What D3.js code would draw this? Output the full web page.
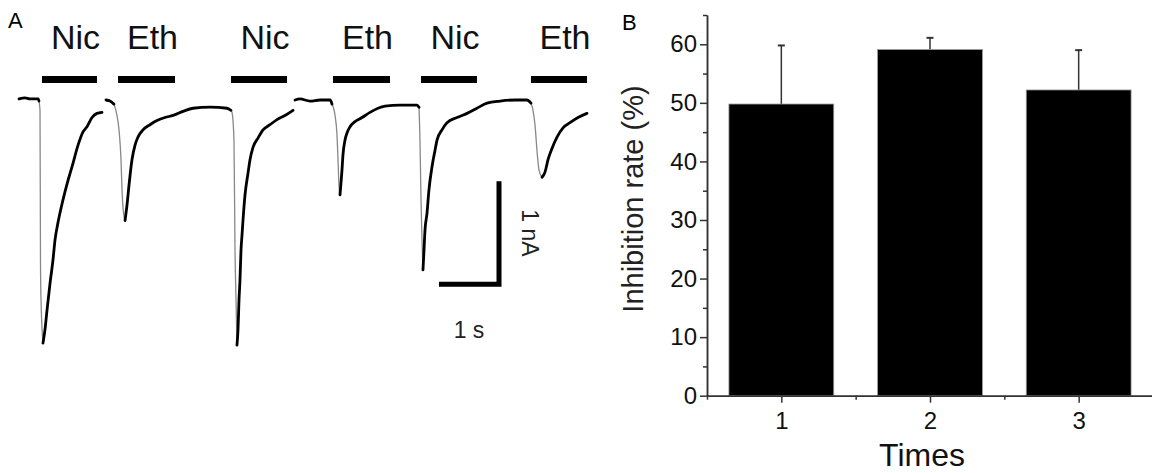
<!DOCTYPE html>
<html>
<head>
<meta charset="utf-8">
<script src="https://cdn.jsdelivr.net/npm/d3@7"></script>
<style>
  body { margin: 0; background: #fff; }
  svg { display: block; font-family: "Liberation Sans", Arial, sans-serif; }
</style>
</head>
<body>
<div id="chart"></div>
<script>
// ---- panel A: whole-cell current trace (time in s, current in nA) ----
// slow phases (thick black) and fast onset phases (thin grey)
var slowPhases = [
  [[0,0.01],[0.1,0.02],[0.18,0.01],[0.32,0.01],[0.333,-0.01]],
  [[0.40,-2.36],[0.433,-2.23],[0.467,-2.04],[0.517,-1.78],[0.567,-1.55],[0.60,-1.36],[0.65,-1.19],[0.733,-0.97],[0.817,-0.78],[0.883,-0.65],[0.983,-0.44],[1.067,-0.31],[1.133,-0.26],[1.217,-0.17],[1.30,-0.13],[1.383,-0.12]],
  [[1.45,0],[1.517,-0.01],[1.583,-0.04]],
  [[1.767,-1.17],[1.80,-1.02],[1.833,-0.83],[1.883,-0.58],[1.933,-0.44],[1.983,-0.36],[2.067,-0.29],[2.183,-0.24],[2.30,-0.20],[2.433,-0.17],[2.567,-0.15],[2.733,-0.11],[2.90,-0.08],[3.183,-0.07],[3.467,-0.08],[3.533,-0.10]],
  [[3.633,-2.38],[3.65,-2.23],[3.667,-1.94],[3.683,-1.75],[3.70,-1.46],[3.717,-1.31],[3.733,-1.17],[3.767,-0.92],[3.817,-0.71],[3.85,-0.58],[3.90,-0.46],[3.983,-0.37],[4.067,-0.29],[4.183,-0.24],[4.30,-0.19],[4.433,-0.15],[4.567,-0.10]],
  [[4.60,0],[4.683,0.01],[4.85,-0.01],[5.017,0],[5.183,0],[5.217,-0.04]],
  [[5.35,-0.92],[5.383,-0.68],[5.40,-0.53],[5.433,-0.39],[5.467,-0.32],[5.517,-0.26],[5.60,-0.21],[5.717,-0.17],[5.85,-0.12],[5.983,-0.08],[6.10,-0.06],[6.35,-0.05],[6.633,-0.05],[6.667,-0.07]],
  [[6.733,-1.65],[6.75,-1.46],[6.767,-1.26],[6.80,-1.10],[6.833,-0.87],[6.883,-0.65],[6.933,-0.49],[6.967,-0.39],[7.05,-0.29],[7.133,-0.22],[7.30,-0.17],[7.467,-0.13],[7.633,-0.08],[7.80,-0.03],[8.017,-0.01],[8.267,0],[8.467,0],[8.533,-0.03]],
  [[8.717,-0.75],[8.767,-0.70],[8.817,-0.58],[8.883,-0.47],[8.967,-0.36],[9.067,-0.27],[9.183,-0.22],[9.317,-0.17],[9.467,-0.13]]
];
var fastPhases = [
  [[0.333,-0.01],[0.35,-0.10],[0.358,-1.55],[0.367,-1.94],[0.40,-2.36]],
  [[1.583,-0.04],[1.633,-0.15],[1.667,-0.29],[1.70,-0.58],[1.717,-0.87],[1.733,-1.04],[1.767,-1.17]],
  [[3.533,-0.10],[3.55,-0.12],[3.583,-0.39],[3.60,-1.46],[3.617,-1.94],[3.633,-2.38]],
  [[5.217,-0.04],[5.267,-0.15],[5.30,-0.34],[5.317,-0.58],[5.333,-0.83],[5.35,-0.92]],
  [[6.667,-0.07],[6.683,-0.39],[6.70,-0.97],[6.717,-1.36],[6.733,-1.65]],
  [[8.533,-0.03],[8.567,-0.10],[8.60,-0.24],[8.633,-0.49],[8.667,-0.68],[8.717,-0.75]]
];
var drugs = ["Nic", "Eth", "Nic", "Eth", "Nic", "Eth"];
var drugOn = [0.383, 1.65, 3.533, 5.233, 6.70, 8.533];
var drugOff = [1.30, 2.60, 4.467, 6.183, 7.633, 9.467];

// ---- panel B: inhibition rate ----
var times = ["1", "2", "3"];
var rates = [49.8, 59.1, 52.2];
var errs = [10.0, 2.0, 6.8];
var yTicks = [0, 10, 20, 30, 40, 50, 60];

var W = 1152, H = 473;
var svg = d3.select("#chart").append("svg")
  .attr("width", W)
  .attr("height", H);

// ===== panel A =====
var xA = d3.scaleLinear().domain([0, 10]).range([19, 619]);
var yA = d3.scaleLinear().domain([0, -2.5]).range([100, 357.5]);

var trace = d3.line()
  .x(function(d) { return xA(d[0]); })
  .y(function(d) { return yA(d[1]); })
  .curve(d3.curveMonotoneX);

var gA = svg.append("g");

gA.selectAll("path.fast")
  .data(fastPhases)
  .enter()
  .append("path")
    .attr("class", "fast")
    .attr("d", trace)
    .attr("fill", "none")
    .attr("stroke", "#888")
    .attr("stroke-width", 1.3);

gA.selectAll("path.slow")
  .data(slowPhases)
  .enter()
  .append("path")
    .attr("class", "slow")
    .attr("d", trace)
    .attr("fill", "none")
    .attr("stroke", "#000")
    .attr("stroke-width", 2.8)
    .attr("stroke-linecap", "round");

// drug application bars + labels
gA.selectAll("rect.drug")
  .data(drugs)
  .enter()
  .append("rect")
    .attr("class", "drug")
    .attr("x", function(d, i) { return xA(drugOn[i]); })
    .attr("width", function(d, i) { return xA(drugOff[i]) - xA(drugOn[i]); })
    .attr("y", 76)
    .attr("height", 7)
    .attr("fill", "#000");

gA.selectAll("text.drug")
  .data(drugs)
  .enter()
  .append("text")
    .attr("class", "drug")
    .attr("x", function(d, i) { return (xA(drugOn[i]) + xA(drugOff[i])) / 2 + 6; })
    .attr("y", 49)
    .attr("text-anchor", "middle")
    .style("font-size", "34px")
    .attr("fill", "#111")
    .text(function(d) { return d; });

// scale bar: 1 s x 1 nA, corner at t = 8 s, I = -1.79 nA
var sbT = 8.0, sbI = -1.79;
gA.append("path")
  .attr("d", "M" + xA(sbT - 1) + "," + yA(sbI) +
             "H" + xA(sbT) +
             "V" + yA(sbI + 1))
  .attr("fill", "none")
  .attr("stroke", "#000")
  .attr("stroke-width", 5);

gA.append("text")
  .attr("x", xA(sbT - 0.5))
  .attr("y", 338)
  .attr("text-anchor", "middle")
  .style("font-size", "23px")
  .attr("fill", "#222")
  .text("1 s");

gA.append("text")
  .attr("transform", "translate(522," + yA(sbI + 0.5) + ") rotate(90)")
  .attr("text-anchor", "middle")
  .style("font-size", "23px")
  .attr("fill", "#222")
  .text("1 nA");

svg.append("text")
  .attr("x", 8).attr("y", 28)
  .style("font-size", "22px")
  .text("A");

// ===== panel B =====
var xB = d3.scaleLinear().domain([0.5, 3.5]).range([707, 1153]);
var yB = d3.scaleLinear().domain([0, 65]).range([395.7, 15]);
var barW = 0.705;

var gB = svg.append("g");

gB.selectAll("line.err")
  .data(rates)
  .enter()
  .append("line")
    .attr("class", "err")
    .attr("x1", function(d, i) { return xB(i + 1); })
    .attr("x2", function(d, i) { return xB(i + 1); })
    .attr("y1", function(d) { return yB(d); })
    .attr("y2", function(d, i) { return yB(d + errs[i]); })
    .attr("stroke", "#333")
    .attr("stroke-width", 1.5);

gB.selectAll("line.cap")
  .data(rates)
  .enter()
  .append("line")
    .attr("class", "cap")
    .attr("x1", function(d, i) { return xB(i + 1) - 3.5; })
    .attr("x2", function(d, i) { return xB(i + 1) + 3.5; })
    .attr("y1", function(d, i) { return yB(d + errs[i]); })
    .attr("y2", function(d, i) { return yB(d + errs[i]); })
    .attr("stroke", "#333")
    .attr("stroke-width", 2);

gB.selectAll("rect.bar")
  .data(rates)
  .enter()
  .append("rect")
    .attr("class", "bar")
    .attr("x", function(d, i) { return xB(i + 1 - barW / 2); })
    .attr("width", xB(barW) - xB(0))
    .attr("y", function(d) { return yB(d); })
    .attr("height", function(d) { return yB(0) - yB(d); })
    .attr("fill", "#000")
    .attr("stroke", "#999")
    .attr("stroke-width", 0.8);

// y axis
gB.append("g")
  .attr("transform", "translate(707,0)")
  .call(d3.axisLeft(yB).tickValues(yTicks).tickSize(7).tickPadding(3).tickSizeOuter(0));
gB.append("g")
  .attr("transform", "translate(707,0)")
  .call(d3.axisLeft(yB).tickValues([5, 15, 25, 35, 45, 55, 65]).tickSize(4).tickFormat("").tickSizeOuter(0));

// x axis
gB.append("g")
  .attr("transform", "translate(0,395.7)")
  .call(d3.axisBottom(xB).tickValues([1, 2, 3]).tickFormat(function(d) { return times[d - 1]; })
    .tickSize(7).tickPadding(9).tickSizeOuter(0));
gB.append("g")
  .attr("transform", "translate(0,395.7)")
  .call(d3.axisBottom(xB).tickValues([0.5, 1.5, 2.5]).tickSize(4).tickFormat("").tickSizeOuter(0));

gB.selectAll(".domain, .tick line")
  .attr("stroke", "#333")
  .attr("stroke-width", 1.5);
gB.selectAll(".tick text")
  .attr("fill", "#111")
  .style("font-family", "'Liberation Sans', Arial, sans-serif")
  .style("font-size", "24px");

gB.append("text")
  .attr("transform", "translate(643,199) rotate(-90)")
  .attr("text-anchor", "middle")
  .style("font-size", "29px")
  .attr("fill", "#222")
  .text("Inhibition rate (%)");

gB.append("text")
  .attr("x", 922).attr("y", 466)
  .attr("text-anchor", "middle")
  .style("font-size", "32px")
  .attr("fill", "#111")
  .text("Times");

svg.append("text")
  .attr("x", 622).attr("y", 30)
  .style("font-size", "22px")
  .text("B");
</script>
</body>
</html>
